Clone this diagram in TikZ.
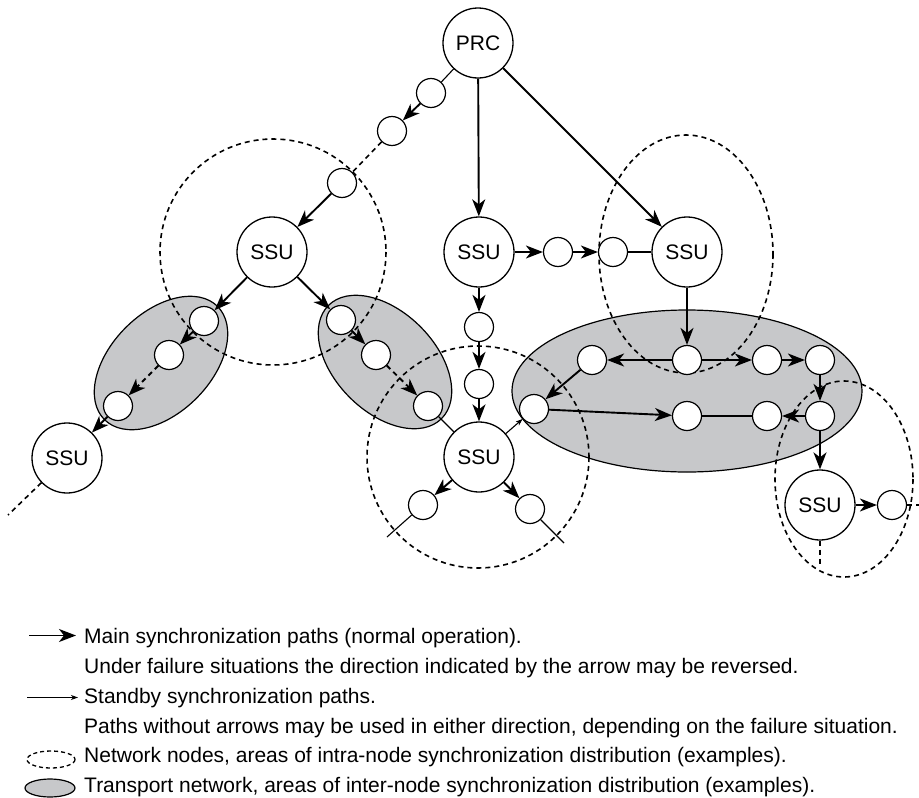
\documentclass[tikz,border=0pt]{standalone}
\usepackage{fontspec}
\setmainfont{Liberation Sans}
\usetikzlibrary{arrows.meta}
\definecolor{areagrey}{RGB}{199,200,202}
\tikzset{
  ssu/.style={circle,draw,line width=1.3pt,fill=white,minimum size=70pt,inner sep=0pt,font=\fontsize{21}{24}\selectfont},
  sn/.style={circle,draw,line width=1.2pt,fill=white,minimum size=29pt,inner sep=0pt},
  mainarrow/.style={line width=1.9pt,-{Stealth[length=17pt,width=13pt,inset=5pt]}},
  thinline/.style={line width=1.1pt},
  standby/.style={line width=1.1pt,-{Stealth[length=7pt,width=5pt,inset=2pt]}},
  dashline/.style={line width=1.6pt,dash pattern=on 5pt off 4pt},
  transarea/.style={fill=areagrey,draw,line width=1.2pt},
  nodearea/.style={draw,line width=1.6pt,dash pattern=on 5pt off 4pt},
  legtext/.style={anchor=base west,inner sep=0pt,font=\fontsize{21}{24}\selectfont}
}
\begin{document}
\begin{tikzpicture}[x=1pt,y=-1pt]
\useasboundingbox (0,0) rectangle (919,798);
% transport network areas
\draw[transarea,rotate around={45:(161,363)}] (161,363) ellipse [x radius=80,y radius=50];
\draw[transarea,rotate around={-45:(385,362)}] (385,362) ellipse [x radius=80,y radius=50];
\draw[transarea] (687,391) ellipse [x radius=175,y radius=81];
% network node areas
\draw[nodearea] (273,252) circle [radius=113];
\draw[nodearea] (686,254) ellipse [x radius=87,y radius=119];
\draw[nodearea] (478,457) circle [radius=111];
\draw[nodearea] (844,479) ellipse [x radius=69,y radius=98];
% nodes
\node[ssu] (prc) at (478,43) {PRC};
\node[sn] (s1) at (431,93) {};
\node[sn] (s2) at (392,131) {};
\node[sn] (s3) at (342,183) {};
\node[ssu] (ssua) at (272,252) {SSU};
\node[sn] (l1) at (204,321) {};
\node[sn] (l2) at (169,355) {};
\node[sn] (l3) at (118,406) {};
\node[ssu] (ssub) at (67,458) {SSU};
\node[sn] (r1) at (341,320) {};
\node[sn] (r2) at (376,355) {};
\node[sn] (r3) at (428,406) {};
\node[ssu] (ssuc) at (479,252) {SSU};
\node[sn] (m1) at (479,327) {};
\node[sn] (m2) at (479,384) {};
\node[ssu] (ssud) at (479,457) {SSU};
\node[sn] (d1) at (423,505) {};
\node[sn] (d2) at (530,509) {};
\node[sn] (h1) at (558,252) {};
\node[sn] (h2) at (613,252) {};
\node[ssu] (ssue) at (687,252) {SSU};
\node[sn] (c1) at (592,360) {};
\node[sn] (c2) at (687,360) {};
\node[sn] (c3) at (767,360) {};
\node[sn] (c4) at (820,360) {};
\node[sn] (c5) at (534,409) {};
\node[sn] (c6) at (687,416) {};
\node[sn] (c7) at (767,416) {};
\node[sn] (c8) at (820,416) {};
\node[ssu] (ssuf) at (820,505) {SSU};
\node[sn] (e1) at (892,505) {};
\coordinate (t1) at (8,515);
\coordinate (t2) at (387,537);
\coordinate (t3) at (564,543);
\coordinate (t4) at (919,505);
\coordinate (t5) at (820,565);
% connectors
\draw[thinline] (prc) -- (s1);
\draw[mainarrow] (s1) -- (s2);
\draw[dashline] (s2) -- (s3);
\draw[mainarrow] (s3) -- (ssua);
\draw[mainarrow] (ssua) -- (l1);
\draw[mainarrow] (l1) -- (l2);
\draw[mainarrow,dash pattern=on 5pt off 4pt] (l2) -- (l3);
\draw[mainarrow] (l3) -- (ssub);
\draw[dashline] (ssub) -- (t1);
\draw[mainarrow] (ssua) -- (r1);
\draw[mainarrow] (r1) -- (r2);
\draw[mainarrow,dash pattern=on 5pt off 4pt] (r2) -- (r3);
\draw[thinline] (r3) -- (ssud);
\draw[mainarrow] (prc) -- (ssuc);
\draw[mainarrow] (prc) -- (ssue);
\draw[mainarrow] (ssuc) -- (m1);
\draw[mainarrow] (m1) -- (m2);
\draw[mainarrow] (m2) -- (ssud);
\draw[mainarrow] (ssud) -- (d1);
\draw[mainarrow] (ssud) -- (d2);
\draw[thinline] (d1) -- (t2);
\draw[thinline] (d2) -- (t3);
\draw[standby] (ssud) -- (c5);
\draw[mainarrow] (ssuc) -- (h1);
\draw[mainarrow] (h1) -- (h2);
\draw[thinline] (h2) -- (ssue);
\draw[mainarrow] (ssue) -- (c2);
\draw[mainarrow] (c2) -- (c1);
\draw[mainarrow] (c2) -- (c3);
\draw[mainarrow] (c3) -- (c4);
\draw[mainarrow] (c4) -- (c8);
\draw[mainarrow] (c1) -- (c5);
\draw[mainarrow] (c5) -- (c6);
\draw[thinline] (c6) -- (c7);
\draw[mainarrow] (c8) -- (c7);
\draw[mainarrow] (c8) -- (ssuf);
\draw[mainarrow] (ssuf) -- (e1);
\draw[dashline] (e1) -- (t4);
\draw[dashline] (ssuf) -- (t5);
% legend
\coordinate (la1) at (29,635.5);
\coordinate (lb1) at (76,635.5);
\draw[mainarrow] (la1) -- (lb1);
\node[legtext] (lg1) at (84,643.5) {Main synchronization paths (normal operation).};
\node[legtext] (lg2) at (84,673.5) {Under failure situations the direction indicated by the arrow may be reversed.};
\coordinate (la2) at (27,697.5);
\coordinate (lb2) at (78,697.5);
\draw[standby] (la2) -- (lb2);
\node[legtext] (lg3) at (84,703.5) {Standby synchronization paths.};
\node[legtext] (lg4) at (84,733) {Paths without arrows may be used in either direction, depending on the failure situation.};
\draw[nodearea,line width=1.3pt,dash pattern=on 4pt off 3pt] (51,759.5) ellipse [x radius=24,y radius=8.5];
\node[legtext] (lg5) at (84,762.5) {Network nodes, areas of intra-node synchronization distribution (examples).};
\draw[transarea] (50,788) ellipse [x radius=25,y radius=9];
\node[legtext] (lg6) at (84,792) {Transport network, areas of inter-node synchronization distribution (examples).};
\end{tikzpicture}
\end{document}
